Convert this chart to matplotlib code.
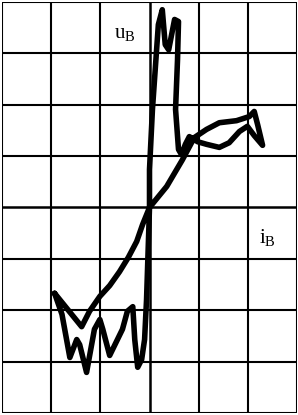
import matplotlib
matplotlib.use("Agg")
import matplotlib.pyplot as plt
import numpy as np

plt.rcParams['mathtext.fontset'] = 'custom'
plt.rcParams['mathtext.rm'] = 'Liberation Serif'
plt.rcParams['mathtext.it'] = 'Liberation Serif'

# current i_B (grid units) and voltage u_B (grid units), traced along the loop
ib = [-1.93, -1.38, -1.22, -1.01, -0.81, -0.61, -0.43, -0.26, -0.14, 0.00,
      0.35, 0.67, 0.91, 1.16, 1.42, 1.77, 2.03, 2.13, 2.20, 2.30, 2.13, 1.99,
      1.83, 1.62, 1.42, 1.16, 0.98, 0.81, 0.73, 0.65, 0.59, 0.53, 0.57, 0.59,
      0.51, 0.39, 0.32, 0.26, 0.18, 0.06, 0.00, 0.00,
      -0.06, -0.10, -0.16, -0.24, -0.30, -0.34, -0.45, -0.55, -0.81, -0.95,
      -1.01, -1.12, -1.28, -1.42, -1.48, -1.62, -1.78, -1.93]
ub = [-1.67, -2.32, -2.02, -1.73, -1.52, -1.25, -0.97, -0.66, -0.33, 0.00,
      0.41, 0.93, 1.36, 1.52, 1.65, 1.69, 1.77, 1.87, 1.61, 1.21, 1.40, 1.58,
      1.48, 1.26, 1.17, 1.23, 1.28, 1.38, 1.23, 1.03, 1.13, 1.91, 2.88, 3.62,
      3.66, 3.07, 3.17, 3.85, 3.56, 1.91, 0.74, 0.00,
      -1.79, -2.57, -2.96, -3.11, -2.57, -1.93, -2.02, -2.37, -2.88, -2.37,
      -2.18, -2.37, -3.21, -2.67, -2.57, -2.92, -2.08, -1.67]

xticks = [-3, -2, -1, 0, 1, 2, 3]
yticks = [-4, -3, -2, -1, 0, 1, 2, 3, 4]

fig = plt.figure(figsize=(2.98, 4.15), dpi=100)
ax = fig.add_axes([2/298, 2/415, 295/298, 411/415])
ax.set_xlim(-3, 3)
ax.set_ylim(-4, 4)
for x in xticks:
    ax.axvline(x, color='black', lw=1.5 if x != 0 else 1.8, zorder=1)
for y in yticks:
    ax.axhline(y, color='black', lw=1.5 if y != 0 else 1.8, zorder=1)
ax.plot(ib, ub, color='black', lw=4.0, solid_joinstyle='round', solid_capstyle='round', zorder=3)
ax.set_xticks([])
ax.set_yticks([])
for s in ax.spines.values():
    s.set_visible(False)

ax.text(-0.51, 3.40, r'$\mathrm{u_B}$', fontsize=15, ha='center', va='center')
ax.text(2.39, -0.58, r'$\mathrm{i_B}$', fontsize=15, ha='center', va='center')

fig.savefig('out.png', dpi=100)
